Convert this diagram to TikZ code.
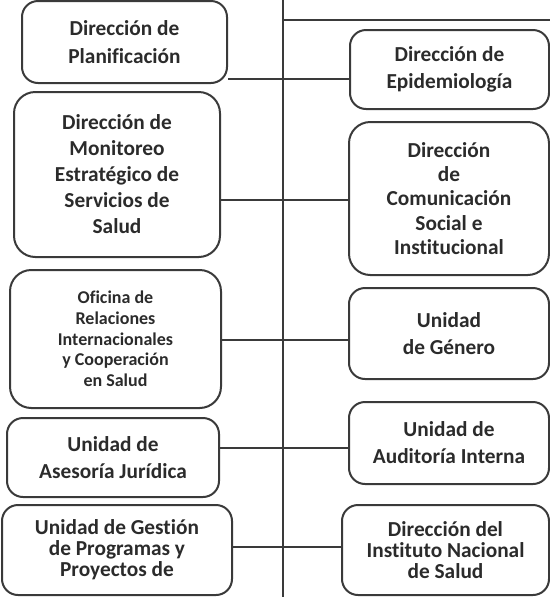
\documentclass[tikz,border=0pt]{standalone}
\usepackage{fontspec}
\setmainfont{Carlito}[Ligatures=NoCommon]
\usepackage{tikz}

\definecolor{rahmen}{HTML}{3A3A3A}
\definecolor{schrift}{HTML}{2B2B2B}

\tikzset{
  orgbox/.style={draw=rahmen, line width=1.5pt, rounded corners=12pt, align=center,
    text=schrift, inner sep=0pt, font=\bfseries\fontsize{16}{20}\selectfont},
  boxsize/.style 2 args={minimum width=#1*0.75pt, minimum height=#2*0.75pt},
  linie/.style={draw=rahmen, line width=0.8pt}
}

\begin{document}
\begin{tikzpicture}[x=0.75pt, y=-0.75pt, line cap=butt, line join=round]

	% --- Parameter (Pixel des Bildes) ---
	\pgfmathsetmacro{\T}{283}   % Stamm (senkrechte Linie)
	\pgfmathsetmacro{\W}{550}   % Breite
	\pgfmathsetmacro{\H}{597}   % Hoehe

	\useasboundingbox (0,0) rectangle (\W,\H);

	% --- Stamm und obere Linie ---
	\coordinate (oben) at (\T,0);
	\coordinate (unten) at (\T,\H);
	\coordinate (rechts) at (\W,20);
	\draw[linie] (oben) -- (unten);
	\draw[linie] (oben |- rechts) -- (rechts);

	% --- linke Spalte ---
	\node[orgbox, boxsize={205}{82}, font=\bfseries\fontsize{16}{21}\selectfont]
	  (plan) at (124.5,42) {Dirección de\\Planificación};
	\node[orgbox, boxsize={206}{165}, rounded corners=16pt, font=\bfseries\fontsize{16}{19.5}\selectfont]
	  (moni) at (117,174.5) {Dirección de\\Monitoreo\\Estratégico de\\Servicios de\\Salud};
	\node[orgbox, boxsize={211}{138}, rounded corners=16pt, font=\bfseries\fontsize{13.5}{15.5}\selectfont]
	  (ofic) at (115.5,339) {Oficina de\\Relaciones\\Internacionales\\y Cooperación\\en Salud};
	\node[orgbox, boxsize={212}{79}, font=\bfseries\fontsize{16}{20.5}\selectfont]
	  (ases) at (113,457.5) {Unidad de\\Asesoría Jurídica};
	\node[orgbox, boxsize={230}{90}, font=\bfseries\fontsize{16}{15.75}\selectfont]
	  (gest) at (117,550) {Unidad de Gestión\\de Programas y\\Proyectos de};

	% --- rechte Spalte ---
	\node[orgbox, boxsize={199}{79}, font=\bfseries\fontsize{16}{20.25}\selectfont]
	  (epid) at (449.5,69.5) {Dirección de\\Epidemiología};
	\node[orgbox, boxsize={200}{153}, rounded corners=16pt, font=\bfseries\fontsize{16}{18.2}\selectfont]
	  (comu) at (449,198.5) {Dirección\\de\\Comunicación\\Social e\\Institucional};
	\node[orgbox, boxsize={200}{91}, font=\bfseries\fontsize{16}{20.25}\selectfont]
	  (gene) at (449,333.5) {Unidad\\de Género};
	\node[orgbox, boxsize={200}{82}, font=\bfseries\fontsize{16}{20.25}\selectfont]
	  (audi) at (449,443) {Unidad de\\Auditoría Interna};
	\node[orgbox, boxsize={207}{90}, font=\bfseries\fontsize{16}{15.75}\selectfont]
	  (inst) at (445.5,550) {Dirección del\\Instituto Nacional\\de Salud};

	% --- Querlinien ---
	\coordinate (q1) at (\T,79);
	\coordinate (q2) at (\T,200);
	\coordinate (q3) at (\T,340);
	\coordinate (q4) at (\T,448);
	\coordinate (q5) at (\T,547);
	\draw[linie] (plan.east |- q1) -- (epid.west |- q1);
	\draw[linie] (moni.east |- q2) -- (comu.west |- q2);
	\draw[linie] (ofic.east |- q3) -- (gene.west |- q3);
	\draw[linie] (ases.east |- q4) -- (audi.west |- q4);
	\draw[linie] (gest.east |- q5) -- (inst.west |- q5);

\end{tikzpicture}
\end{document}
